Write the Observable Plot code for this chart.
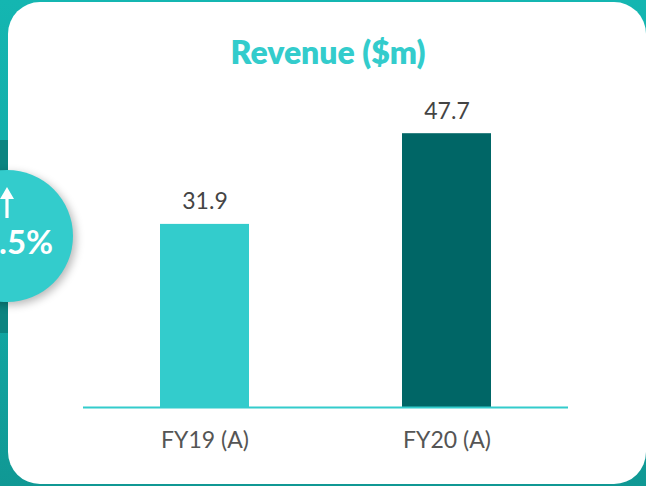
<!DOCTYPE html>
<html>
<head>
<meta charset="utf-8">
<script src="https://cdn.jsdelivr.net/npm/d3@7"></script>
<script src="https://cdn.jsdelivr.net/npm/@observablehq/plot@0.6"></script>
<style>
  html, body { margin: 0; padding: 0; }
  body {
    width: 646px; height: 486px; overflow: hidden; position: relative;
    background: linear-gradient(180deg, #14b6b1 0%, #12a8a4 60%, #109894 100%);
    font-family: Lato, "Open Sans", sans-serif;
  }
  #band { position: absolute; left: 0; top: 140px; width: 10px; height: 193px; background: #0c8480; }
  #card {
    position: absolute; left: 8px; top: 2px; width: 638px; height: 482px;
    background: #fff; border-radius: 32px;
  }
  #title {
    position: absolute; left: 8px; width: 640px; top: 32px; text-align: center;
    font-family: Lato, sans-serif; font-weight: 800; font-size: 32px; color: #33cccc;
    line-height: 40px;
  }
  #chart { position: absolute; left: 0; top: 0; }
  #badge {
    position: absolute; left: -59px; top: 170px; width: 132px; height: 132px;
    border-radius: 50%; background: #33cccc;
    box-shadow: 3px 3px 8px rgba(0,0,0,0.28);
  }
  #badge .arrow { position: absolute; left: 59px; top: 17px; width: 14px; height: 31px; }
  #badge .pct {
    position: absolute; left: 0; width: 132px; top: 51px; text-align: center;
    color: #fff; font-weight: 700; font-size: 33px; font-family: Lato, sans-serif;
    line-height: 40px; white-space: nowrap;
  }
</style>
</head>
<body>
<div id="band"></div>
<div id="card"></div>
<div id="title">Revenue ($m)</div>
<div id="chart"></div>
<div id="badge">
  <svg class="arrow" viewBox="0 0 14 31"><polygon points="7,0 14,12 8.6,12 8.6,31 5.4,31 5.4,12 0,12" fill="#fff"/></svg>
  <div class="pct"></div>
</div>
<script>
const categories = ["FY19 (A)", "FY20 (A)"];
const revenue = [31.9, 47.7];
const barColors = ["#33cccc", "#006666"];

const data = categories.map((c, i) => ({category: c, value: revenue[i]}));
const growth = ((revenue[1] / revenue[0] - 1) * 100).toFixed(1) + "%";
document.querySelector("#badge .pct").textContent = growth;

const chart = Plot.plot({
  width: 646,
  height: 486,
  marginLeft: 83,
  marginRight: 78,
  marginTop: 120,
  marginBottom: 79,
  style: {background: "transparent", fontFamily: "Lato, sans-serif"},
  x: {domain: categories, paddingInner: 0.634, paddingOuter: 0.315, label: null},
  y: {domain: [0, 50], axis: null},
  color: {domain: categories, range: barColors},
  marks: [
    Plot.barY(data, {x: "category", y: "value", fill: "category"}),
    Plot.ruleY([0], {stroke: "#33cccc", strokeWidth: 2}),
    Plot.text(data, {x: "category", y: "value", text: d => d.value.toFixed(1), lineAnchor: "bottom", dy: -15, fontSize: 23, fill: "#444"}),
    Plot.axisX({tickSize: 0, tickPadding: 24, fontSize: 23, color: "#555", label: null})
  ]
});
document.getElementById("chart").appendChild(chart);
</script>
</body>
</html>
